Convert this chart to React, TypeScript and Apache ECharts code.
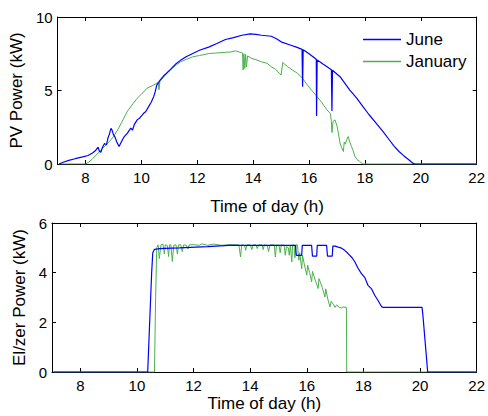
import React, { useEffect, useRef } from "react";
import * as echarts from "echarts";

const xTicks = [8, 10, 12, 14, 16, 18, 20, 22];
const pvTicks = [0, 5, 10];
const elTicks = [0, 2, 4, 6];

const junePV: [number, number][] = [
  [7.05, 0], [7.2, 0.12], [7.4, 0.25], [7.63, 0.36], [7.9, 0.48], [8.09, 0.58], [8.25, 0.75], [8.35, 0.9],
  [8.45, 1.15], [8.5, 0.85], [8.55, 0.8], [8.6, 1.1], [8.68, 1.4], [8.75, 1.3], [8.8, 1.75], [8.85, 2.0],
  [8.91, 2.42], [8.95, 2.3], [9.0, 2.0], [9.05, 1.85], [9.12, 1.5], [9.2, 1.19], [9.28, 1.5], [9.38, 1.85],
  [9.5, 2.1], [9.62, 2.44], [9.68, 2.3], [9.75, 2.7], [9.85, 3.0], [9.95, 3.15], [10.08, 3.45], [10.15, 3.55],
  [10.26, 3.9], [10.35, 4.2], [10.44, 4.58], [10.5, 4.95], [10.55, 5.37], [10.6, 5.5], [10.67, 5.71], [10.8, 6.0],
  [10.9, 6.17], [11.05, 6.45], [11.25, 6.84], [11.4, 7.05], [11.6, 7.29], [11.84, 7.52], [12.08, 7.74], [12.43, 7.97],
  [12.7, 8.2], [13.01, 8.47], [13.3, 8.6], [13.6, 8.76], [13.89, 8.85], [14.1, 8.82], [14.3, 8.76], [14.65, 8.69],
  [14.85, 8.5], [15.0, 8.31], [15.35, 8.08], [15.55, 7.95], [15.75, 7.8], [15.77, 5.25], [15.79, 7.78], [16.0, 7.5],
  [16.26, 7.12], [16.27, 3.27], [16.29, 7.08], [16.5, 6.8], [16.8, 6.42], [16.82, 3.61], [16.84, 6.38], [17.11, 5.94],
  [17.46, 5.03], [17.7, 4.5], [17.93, 3.9], [18.15, 3.35], [18.4, 2.78], [18.65, 2.2], [18.87, 1.65], [19.05, 1.2],
  [19.22, 0.85], [19.4, 0.55], [19.57, 0.29], [19.74, 0.02], [19.8, 0], [22, 0],
];

const januaryPV: [number, number][] = [
  [7.05, 0], [8.0, 0], [8.1, 0.1], [8.25, 0.35], [8.45, 0.74], [8.6, 1.05], [8.8, 1.42], [9.0, 1.85],
  [9.15, 2.32], [9.3, 2.85], [9.5, 3.6], [9.7, 4.1], [9.85, 4.47], [10.0, 4.75], [10.2, 5.15], [10.44, 5.37],
  [10.6, 5.55], [10.63, 5.05], [10.66, 5.6], [10.9, 6.15], [11.1, 6.5], [11.25, 6.73], [11.4, 6.95], [11.6, 7.11],
  [11.84, 7.29], [12.08, 7.38], [12.43, 7.52], [12.7, 7.55], [13.01, 7.6], [13.2, 7.62], [13.36, 7.7], [13.5, 7.62],
  [13.62, 7.55], [13.64, 6.4], [13.67, 7.5], [13.7, 6.5], [13.73, 7.45], [13.76, 6.6], [13.8, 7.35], [13.95, 7.18],
  [14.1, 7.1], [14.3, 6.95], [14.5, 6.85], [14.65, 6.61], [14.8, 6.45], [14.94, 6.17], [15.0, 6.05], [15.06, 6.91],
  [15.12, 6.8], [15.24, 6.61], [15.4, 6.4], [15.59, 6.17], [15.77, 5.82], [15.94, 5.37], [16.1, 5.0], [16.29, 4.58],
  [16.45, 4.2], [16.64, 3.68], [16.76, 3.45], [16.8, 2.9], [16.82, 2.14], [16.86, 2.9], [16.93, 3.0], [17.0, 2.6],
  [17.05, 2.1], [17.11, 1.42], [17.17, 1.1], [17.23, 0.85], [17.26, 1.5], [17.3, 1.35], [17.36, 1.7], [17.4, 1.87],
  [17.46, 1.5], [17.52, 1.19], [17.58, 0.9], [17.64, 0.52], [17.72, 0.3], [17.81, 0.18], [17.93, 0], [22, 0],
];

const juneEl: [number, number][] = [
  [7.05, 0], [10.38, 0], [10.45, 2.0], [10.52, 4.0], [10.56, 4.8], [10.62, 4.94], [10.8, 4.97], [11.0, 4.98],
  [11.5, 5.0], [12.07, 5.03], [12.5, 5.05], [13.24, 5.1], [14.0, 5.1], [15.0, 5.1], [15.6, 5.1], [15.63, 4.7],
  [15.82, 4.7], [15.84, 5.1], [16.17, 5.1], [16.2, 4.67], [16.35, 4.67], [16.37, 5.1], [16.7, 5.1], [16.73, 4.67],
  [16.9, 4.67], [16.92, 5.07], [17.0, 5.07], [17.11, 5.03], [17.2, 5.0], [17.34, 4.9], [17.46, 4.77], [17.6, 4.6],
  [17.7, 4.43], [17.8, 4.2], [17.93, 3.96], [18.05, 3.8], [18.16, 3.49], [18.28, 3.36], [18.4, 3.09], [18.51, 2.89],
  [18.65, 2.62], [18.7, 2.6], [20.07, 2.6], [20.1, 2.3], [20.27, 0], [22, 0],
];

const januaryEl: [number, number][] = [
  [7.05, 0], [10.62, 0], [10.66, 3.0], [10.7, 5.0], [10.75, 5.12], [10.79, 4.57], [10.85, 5.12], [10.92, 5.15],
  [10.97, 4.75], [11.0, 5.12], [11.07, 5.1], [11.12, 4.65], [11.15, 5.12], [11.2, 5.12], [11.25, 4.45], [11.3, 5.1],
  [11.38, 5.12], [11.43, 4.75], [11.47, 5.12], [11.55, 5.12], [11.6, 4.85], [11.65, 5.12], [11.75, 5.1], [11.8, 4.95],
  [11.85, 5.12], [12.0, 5.13], [12.2, 5.1], [12.3, 5.16], [12.5, 5.1], [12.7, 5.15], [13.0, 5.1], [13.3, 5.13],
  [13.6, 5.12], [13.66, 4.63], [13.7, 5.12], [13.8, 5.1], [13.84, 4.9], [13.88, 5.12], [14.0, 5.12], [14.06, 4.93],
  [14.1, 5.12], [14.2, 5.12], [14.25, 4.97], [14.3, 5.12], [14.42, 5.12], [14.46, 4.93], [14.5, 5.12], [14.6, 5.1],
  [14.65, 4.85], [14.7, 5.12], [14.85, 5.12], [14.89, 4.63], [14.93, 5.12], [15.02, 5.1], [15.06, 4.8], [15.1, 5.12],
  [15.2, 5.1], [15.24, 4.7], [15.28, 5.05], [15.35, 5.0], [15.38, 4.7], [15.42, 5.1], [15.47, 4.43], [15.5, 5.12],
  [15.55, 5.12], [15.58, 4.6], [15.62, 5.12], [15.67, 5.12], [15.72, 4.5], [15.75, 4.8], [15.82, 4.16], [15.85, 4.7],
  [15.9, 4.4], [16.0, 3.9], [16.03, 4.3], [16.1, 4.0], [16.17, 3.63], [16.2, 4.05], [16.3, 3.7], [16.4, 3.36],
  [16.43, 3.76], [16.55, 3.4], [16.64, 3.02], [16.67, 3.35], [16.75, 2.9], [16.82, 2.62], [16.86, 2.85], [16.95, 2.7],
  [17.0, 2.6], [17.05, 2.7], [17.15, 2.6], [17.23, 2.58], [17.28, 2.62], [17.4, 2.6], [17.41, 0], [22, 0],
];

const FONT = "Liberation Sans, Arial, sans-serif";
const BLUE = "#0000ff";
const GREEN = "#4cb04c";

function xAx(grid: number, pos: "bottom" | "top", nameGap: number) {
  const main = pos === "bottom";
  return {
    gridIndex: grid,
    type: "value",
    position: pos,
    min: 7,
    max: 22,
    axisLine: { show: true, onZero: false, lineStyle: { color: "#000", width: 1 } },
    axisTick: { show: true, inside: true, length: 4, customValues: xTicks, lineStyle: { color: "#000" } },
    axisLabel: { show: main, customValues: xTicks, fontSize: 15, color: "#000", margin: 6, fontFamily: FONT },
    splitLine: { show: false },
    name: main ? "Time of day (h)" : "",
    nameLocation: "middle",
    nameGap,
    nameTextStyle: { fontSize: 17, color: "#000", fontFamily: FONT },
  };
}

function yAx(grid: number, pos: "left" | "right", max: number, ticks: number[], name: string) {
  const main = pos === "left";
  return {
    gridIndex: grid,
    type: "value",
    position: pos,
    min: 0,
    max,
    axisLine: { show: true, onZero: false, lineStyle: { color: "#000", width: 1 } },
    axisTick: { show: true, inside: true, length: 4, customValues: ticks, lineStyle: { color: "#000" } },
    axisLabel: { show: main, customValues: ticks, fontSize: 15, color: "#000", margin: 5, fontFamily: FONT },
    splitLine: { show: false },
    name: main ? name : "",
    nameLocation: "middle",
    nameGap: 23,
    nameTextStyle: { fontSize: 17, color: "#000", fontFamily: FONT },
  };
}

export default function App() {
  const ref = useRef<HTMLDivElement>(null);
  useEffect(() => {
    if (!ref.current) return;
    const chart = echarts.init(ref.current, null, { renderer: "svg" });
    const line = (name: string, data: [number, number][], xi: number, yi: number, color: string, width: number) => ({
      type: "line",
      name,
      data,
      xAxisIndex: xi,
      yAxisIndex: yi,
      symbol: "none",
      showSymbol: false,
      color,
      lineStyle: { color, width },
      emphasis: { disabled: true },
    });
    chart.setOption({
      animation: false,
      backgroundColor: "#fff",
      textStyle: { fontFamily: FONT },
      grid: [
        { left: 52, top: 17, width: 427, height: 147 },
        { left: 52, top: 223, width: 427, height: 149 },
      ],
      xAxis: [xAx(0, "bottom", 34), xAx(0, "top", 0), xAx(1, "bottom", 23), xAx(1, "top", 0)],
      yAxis: [
        yAx(0, "left", 10, pvTicks, "PV Power (kW)"),
        yAx(0, "right", 10, pvTicks, ""),
        yAx(1, "left", 6, elTicks, "El/zer Power (kW)"),
        yAx(1, "right", 6, elTicks, ""),
      ],
      legend: {
        data: ["June", "January"],
        orient: "vertical",
        left: 358,
        top: 26,
        icon: "rect",
        itemWidth: 38,
        itemHeight: 1.3,
        itemGap: 5,
        textStyle: { fontSize: 17, color: "#000", fontFamily: FONT },
      },
      series: [
        line("January", januaryPV, 0, 0, GREEN, 1),
        line("June", junePV, 0, 0, BLUE, 1.2),
        line("January", januaryEl, 2, 2, GREEN, 1),
        line("June", juneEl, 2, 2, BLUE, 1.2),
      ],
    });
    return () => chart.dispose();
  }, []);
  return (
    <div
      ref={ref}
      style={{ position: "fixed", left: 0, top: 0, width: 488, height: 416, background: "#fff" }}
    />
  );
}
